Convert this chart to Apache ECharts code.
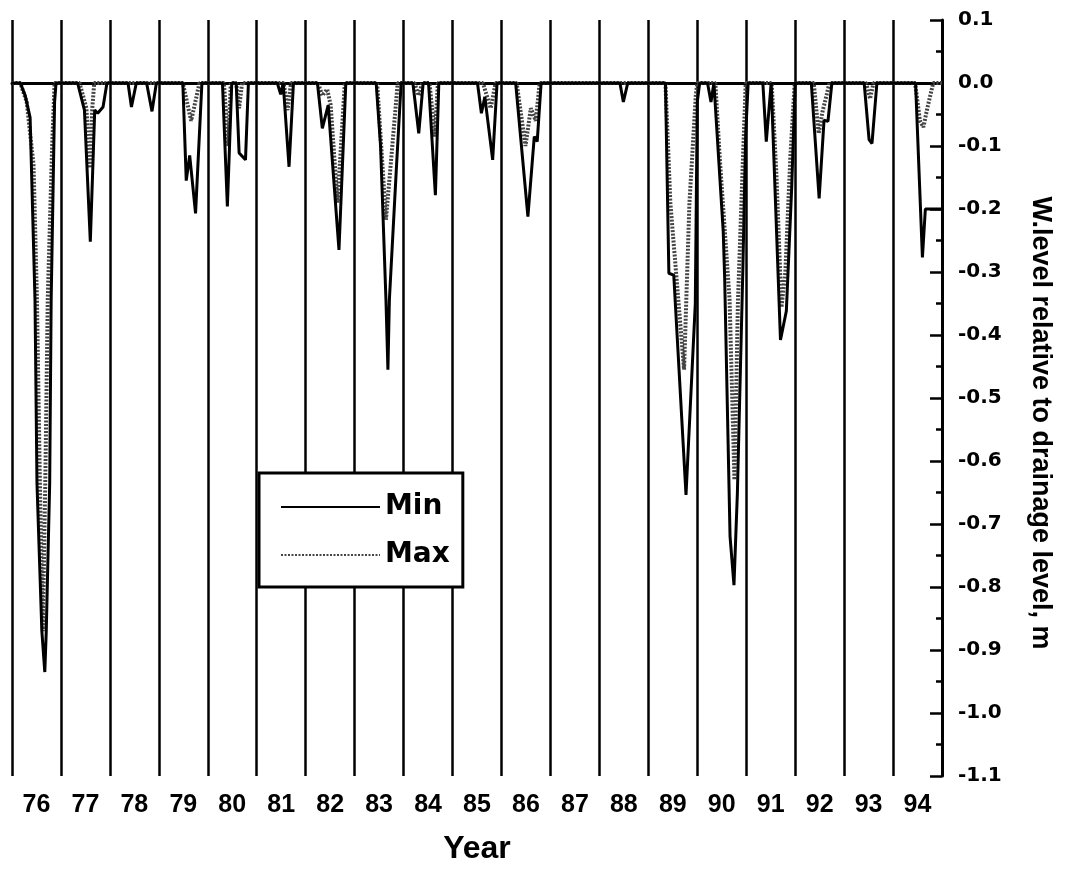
<!DOCTYPE html>
<html><head><meta charset="utf-8">
<script src="https://cdn.jsdelivr.net/npm/echarts@6/dist/echarts.min.js"></script>
<style>html,body{margin:0;padding:0;background:#fff}#c{width:1066px;height:876px}</style>
</head><body><div id="c"></div>
<script>
// Year labels (each label centred in its year)
const yearLabels = ['76','77','78','79','80','81','82','83','84','85','86','87','88','89','90','91','92','93','94'];

// Min water level: [decimal year, level m]
const minLevel = [
[76.00,0],[76.17,0],[76.27,-0.02],[76.37,-0.055],[76.47,-0.345],[76.51,-0.635],[76.61,-0.87],[76.67,-0.935],[76.70,-0.87],[76.77,-0.635],[76.80,-0.345],[76.87,-0.03],[76.90,0],
[77.34,0],[77.48,-0.043],[77.60,-0.252],[77.69,-0.043],[77.75,-0.048],[77.86,-0.038],[77.94,0],
[78.37,0],[78.44,-0.038],[78.54,0],[78.75,0],[78.86,-0.045],[78.95,0],
[79.49,0],[79.56,-0.155],[79.63,-0.115],[79.75,-0.207],[79.88,0],
[80.30,0],[80.40,-0.196],[80.49,0],[80.58,0],[80.64,-0.111],[80.77,-0.122],[80.83,0],
[81.42,0],[81.49,-0.018],[81.54,0],[81.66,-0.133],[81.75,0],
[82.24,0],[82.34,-0.072],[82.46,-0.035],[82.68,-0.265],[82.82,0],
[83.44,0],[83.53,-0.1],[83.64,-0.344],[83.68,-0.455],[83.71,-0.344],[83.85,-0.14],[83.95,0],
[84.19,0],[84.31,-0.08],[84.40,0],[84.51,0],[84.65,-0.178],[84.72,0],
[85.51,0],[85.59,-0.048],[85.66,-0.022],[85.82,-0.122],[85.91,0],
[86.29,0],[86.54,-0.212],[86.67,-0.085],[86.73,-0.093],[86.81,0],
[88.42,0],[88.49,-0.03],[88.58,0],
[89.35,0],[89.42,-0.302],[89.52,-0.305],[89.77,-0.654],[89.96,-0.35],[90.00,-0.03],[90.05,0],
[90.21,0],[90.28,-0.03],[90.34,0],[90.37,0],[90.53,-0.235],[90.56,-0.31],[90.67,-0.72],[90.75,-0.797],[90.82,-0.65],[90.93,-0.3],[90.99,-0.08],[91.04,0],
[91.34,0],[91.41,-0.093],[91.51,0],[91.70,-0.408],[91.82,-0.362],[91.93,-0.165],[92.00,0],
[92.33,0],[92.49,-0.183],[92.59,-0.059],[92.67,-0.061],[92.75,0],
[93.41,0],[93.51,-0.09],[93.57,-0.096],[93.67,0],
[94.46,0],[94.60,-0.277],[94.66,-0.2],[95.00,-0.2]
];

// Max water level: [decimal year, level m]
const maxLevel = [
[76.00,0],[76.17,0],[76.30,-0.03],[76.44,-0.13],[76.51,-0.345],[76.57,-0.635],[76.63,-0.87],[76.68,-0.635],[76.73,-0.345],[76.82,-0.1],[76.87,0],
[77.38,0],[77.52,-0.04],[77.59,-0.135],[77.64,-0.04],[77.68,0],
[79.49,0],[79.66,-0.06],[79.83,0],
[80.33,0],[80.42,-0.1],[80.47,0],[80.58,0],[80.64,-0.04],[80.70,0],
[81.55,0],[81.63,-0.043],[81.70,0],
[82.25,0],[82.34,-0.02],[82.44,-0.01],[82.51,-0.035],[82.65,-0.19],[82.76,-0.05],[82.80,0],
[83.46,0],[83.64,-0.217],[83.88,0],
[84.22,0],[84.31,-0.02],[84.38,0],[84.53,0],[84.64,-0.085],[84.70,0],
[85.62,0],[85.78,-0.04],[85.88,0],
[86.31,0],[86.49,-0.1],[86.60,-0.04],[86.70,-0.06],[86.78,0],
[89.35,0],[89.45,-0.19],[89.73,-0.455],[89.84,-0.19],[89.97,-0.02],[90.00,0],
[90.37,0],[90.46,-0.12],[90.66,-0.344],[90.76,-0.63],[90.83,-0.35],[90.92,-0.15],[90.99,0],
[91.52,0],[91.62,-0.15],[91.72,-0.356],[91.80,-0.3],[91.90,-0.12],[91.99,0],
[92.38,0],[92.48,-0.08],[92.56,-0.045],[92.64,-0.02],[92.70,0],
[93.45,0],[93.53,-0.025],[93.60,0],
[94.45,0],[94.55,-0.06],[94.62,-0.07],[94.70,-0.04],[94.82,0],[95.00,0]
];

const yMin = -1.1, yMax = 0.1, yStep = 0.1;
const xStart = 76, xEnd = 95;

const chart = echarts.init(document.getElementById('c'), null, {renderer:'canvas'});
chart.setOption({
  animation: false,
  backgroundColor: '#fff',
  grid: {left: 12, right: 124, top: 20, bottom: 100, containLabel: false},
  xAxis: [
    {type:'value', min:xStart, max:xEnd, interval:1, position:'bottom',
     axisLine:{show:true, lineStyle:{color:'#000', width:3}},
     axisTick:{show:false}, axisLabel:{show:false},
     splitLine:{show:true, lineStyle:{color:'#000', width:2.5}}},
    {type:'category', data:yearLabels, boundaryGap:true, position:'bottom',
     axisLine:{show:false}, axisTick:{show:false}, splitLine:{show:false},
     axisLabel:{color:'#000', fontFamily:'Liberation Sans', fontWeight:'bold', fontSize:25, margin:17},
     name:'Year', nameLocation:'middle', nameGap:57, nameMoveOverlap:false,
     nameTextStyle:{color:'#000', fontFamily:'Liberation Sans', fontWeight:'bold', fontSize:32}}
  ],
  yAxis: {type:'value', position:'right', min:yMin, max:yMax, interval:yStep,
    axisLine:{show:true, lineStyle:{color:'#000', width:3}},
    axisTick:{show:true, inside:true, length:12, lineStyle:{color:'#000', width:2.5}},
    minorTick:{show:true, splitNumber:2, length:6, lineStyle:{color:'#000', width:2.5}},
    splitLine:{show:false}, minorSplitLine:{show:false},
    axisLabel:{color:'#000', fontFamily:'DejaVu Sans', fontWeight:'bold', fontSize:20, margin:16,
      formatter: v => (Math.abs(v) < 1e-9 ? 0 : v).toFixed(1)}
  },
  legend: {data:['Min','Max'], orient:'vertical', left:259, top:473,
    padding:[20,13,18,21], itemWidth:99, itemHeight:28, itemGap:20,
    backgroundColor:'#fff', borderColor:'#000', borderWidth:3, borderRadius:0,
    itemStyle:{opacity:0},
    textStyle:{color:'#000', fontFamily:'DejaVu Sans', fontWeight:'bold', fontSize:28}, z:10},
  graphic: [{type:'text', x:1040, y:423, rotation:-Math.PI/2,
    style:{text:'W.level relative to drainage level, m', fill:'#000',
      fontFamily:'Liberation Sans', fontWeight:'bold', fontSize:27, align:'center', verticalAlign:'middle'}}],
  series: [
    {name:'Min', type:'line', data:minLevel, xAxisIndex:0, symbol:'none', z:3,
     itemStyle:{color:'#000'}, lineStyle:{color:'#000', width:3}},
    {name:'Max', type:'line', data:maxLevel, xAxisIndex:0, symbol:'none', z:2,
     itemStyle:{color:'#444'}, lineStyle:{color:'#444', width:4, type:[2,1.5]}}
  ]
});
</script></body></html>
